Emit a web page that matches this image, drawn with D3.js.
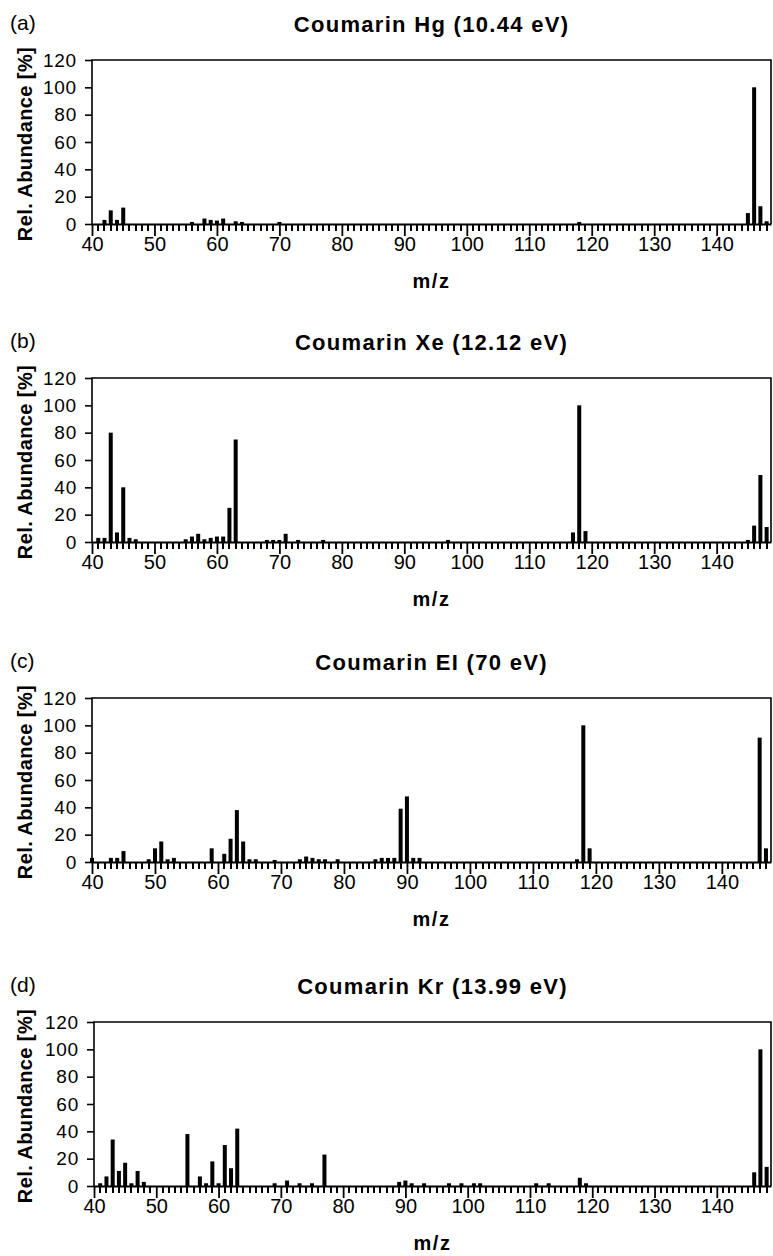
<!DOCTYPE html>
<html>
<head>
<meta charset="utf-8">
<script src="https://cdn.jsdelivr.net/npm/d3@7"></script>
<style>
  body { margin: 0; background: #fff; }
  text { font-family: "Liberation Sans", Arial, Helvetica, sans-serif; fill: #000; }
</style>
</head>
<body>
<div id="chart"></div>
<script>
// panel captions
const panelLetters = ["(a)", "(b)", "(c)", "(d)"];
const titles = ["Coumarin Hg (10.44 eV)", "Coumarin Xe (12.12 eV)", "Coumarin EI (70 eV)", "Coumarin Kr (13.99 eV)"];

// (a) Hg photoionisation
const hgMz    = [42, 43, 44, 45, 56, 58, 59, 60, 61, 63, 64, 70, 118, 145, 146, 147, 148];
const hgAbund = [3, 10, 3, 12, 1.5, 4, 3, 2.5, 4, 2, 1.5, 1.5, 1.5, 8, 100, 13, 2];

// (b) Xe photoionisation
const xeMz    = [41, 42, 43, 44, 45, 46, 47, 55, 56, 57, 58, 59, 60, 61, 62, 63, 68, 69, 70, 71, 73, 77, 97, 117, 118, 119, 145, 146, 147, 148];
const xeAbund = [3, 3, 80, 7, 40, 3, 2, 2, 4, 6, 2, 3, 4, 4, 25, 75, 1.5, 1.5, 1.5, 6, 1.5, 1.5, 1.5, 7, 100, 8, 1.5, 12, 49, 11];

// (c) electron ionisation
const eiMz    = [40, 43, 44, 45, 49, 50, 51, 52, 53, 59, 61, 62, 63, 64, 65, 66, 69, 73, 74, 75, 76, 77, 79, 85, 86, 87, 88, 89, 90, 91, 92, 117, 118, 119, 146, 147];
const eiAbund = [3, 3, 3, 8, 2, 10, 15, 2, 3, 10, 6, 17, 38, 15, 2, 2, 1.5, 2, 4, 3, 2, 2, 2, 2, 3, 3, 3, 39, 48, 3, 3, 2, 100, 10, 91, 10];

// (d) Kr photoionisation
const krMz    = [41, 42, 43, 44, 45, 46, 47, 48, 55, 57, 58, 59, 60, 61, 62, 63, 69, 71, 73, 75, 77, 89, 90, 91, 93, 97, 99, 101, 102, 111, 113, 118, 119, 146, 147, 148];
const krAbund = [2, 7, 34, 11, 17, 2, 11, 3, 38, 7, 2, 18, 2, 30, 13, 42, 2, 4, 2, 2, 23, 3, 4, 2, 2, 2, 2, 2, 2, 2, 2, 6, 2, 10, 100, 14];

// axes
const yTicks = [0, 20, 40, 60, 80, 100, 120];
const xTicks = [40, 50, 60, 70, 80, 90, 100, 110, 120, 130, 140];
const xMax = [148.7, 148.7, 147.8, 148.7];

const spectra = [[hgMz, hgAbund], [xeMz, xeAbund], [eiMz, eiAbund], [krMz, krAbund]];

const width = 773, height = 1256;
const frameTop = [60, 378, 698, 1022];
const frameLeft = [92, 92, 92, 94];
const frameRight = 771;
const plotH = 164;
const barW = 4;

const svg = d3.select("#chart").append("svg")
  .attr("width", width)
  .attr("height", height);

spectra.forEach(([mz, ab], i) => {
  const top = frameTop[i], left = frameLeft[i];
  const x = d3.scaleLinear().domain([40, xMax[i]]).range([left, frameRight]);
  const y = d3.scaleLinear().domain([0, 120]).range([top + plotH, top]);
  const g = svg.append("g");

  // bars
  g.selectAll("rect")
    .data(mz)
    .join("rect")
    .attr("x", d => x(d) - barW / 2)
    .attr("width", barW)
    .attr("y", (d, j) => y(ab[j]))
    .attr("height", (d, j) => y(0) - y(ab[j]))
    .attr("fill", "#000");

  // frame (top, left, right)
  g.append("path")
    .attr("d", `M${left},${y(0)}V${top}H${frameRight}V${y(0)}`)
    .attr("fill", "none")
    .attr("stroke", "#000")
    .attr("stroke-width", 1.6);

  // minor x ticks every 1 m/z
  const minor = d3.range(41, Math.floor(xMax[i]) + 1).filter(v => v % 10 !== 0);
  g.append("g")
    .selectAll("rect")
    .data(minor)
    .join("rect")
    .attr("x", d => Math.round(x(d)) - 1)
    .attr("width", 2)
    .attr("y", y(0))
    .attr("height", 7)
    .attr("fill", "#000");

  // major x ticks
  const xAxis = g.append("g")
    .attr("transform", `translate(0,${y(0)})`)
    .call(d3.axisBottom(x).tickValues(xTicks).tickSize(12).tickSizeOuter(0).tickPadding(1));
  xAxis.select(".domain").attr("stroke-width", 1.8);
  xAxis.selectAll("line").attr("stroke-width", 1.8);
  xAxis.selectAll("text").style("font-size", "20px");

  // y axis
  const yAxis = g.append("g")
    .attr("transform", `translate(${left},0)`)
    .call(d3.axisLeft(y).tickValues(yTicks).tickSize(7).tickPadding(8));
  yAxis.select(".domain").remove();
  yAxis.selectAll("line").attr("stroke-width", 1.6);
  yAxis.selectAll("text")
    .style("font-size", "19px")
    .style("letter-spacing", "0.8px");

  // captions
  svg.append("text")
    .attr("x", 10)
    .attr("y", top - 30)
    .style("font-size", "21px")
    .text(panelLetters[i]);

  svg.append("text")
    .attr("x", (left + frameRight) / 2)
    .attr("y", top - 28)
    .attr("text-anchor", "middle")
    .style("font-size", "22px")
    .style("font-weight", "bold")
    .style("letter-spacing", "1.3px")
    .text(titles[i]);

  svg.append("text")
    .attr("x", (left + frameRight) / 2)
    .attr("y", y(0) + 64)
    .attr("text-anchor", "middle")
    .style("font-size", "20px")
    .style("font-weight", "bold")
    .style("letter-spacing", "1.5px")
    .text("m/z");

  svg.append("text")
    .attr("transform", `translate(32,${top + 84}) rotate(-90)`)
    .attr("text-anchor", "middle")
    .style("font-size", "20px")
    .style("font-weight", "bold")
    .style("letter-spacing", "0.4px")
    .text("Rel. Abundance [%]");
});
</script>
</body>
</html>
